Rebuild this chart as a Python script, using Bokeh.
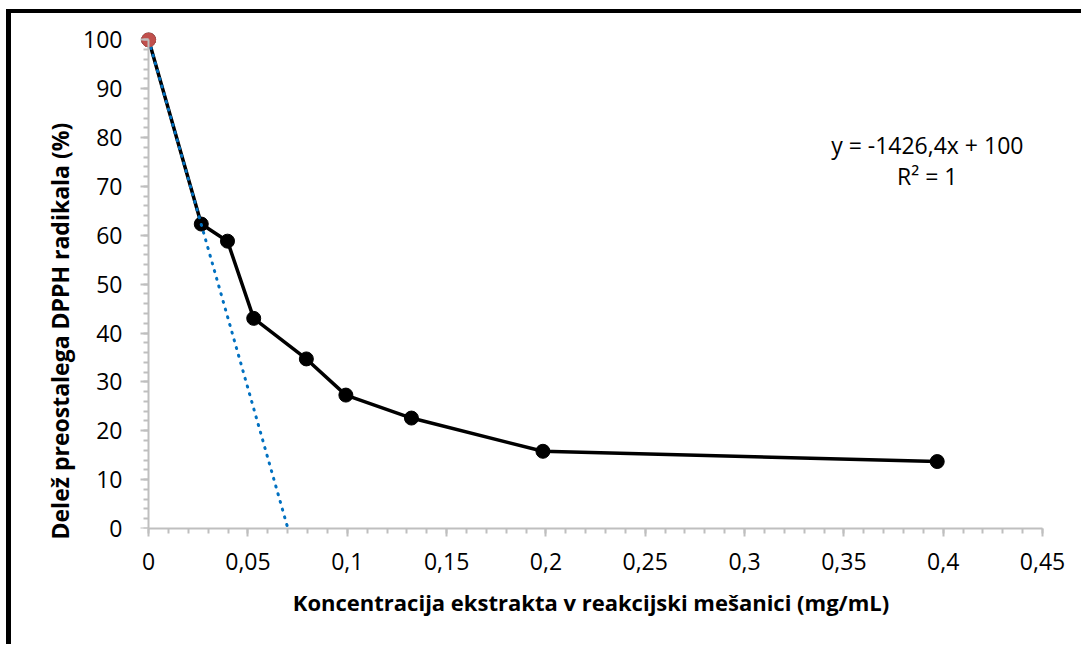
from bokeh.plotting import figure
from bokeh.models import (Range1d, SingleIntervalTicker, CustomJSTickFormatter,
                          Label, Title, LinearAxis)
from bokeh.embed import file_html
from bokeh.resources import INLINE

# Measured DPPH scavenging: extract concentration (mg/mL) vs remaining radical (%)
concentration = [0, 0.0265, 0.0397, 0.0529, 0.0794, 0.0993, 0.1323, 0.1985, 0.397]
remaining = [100, 62.3, 58.8, 43.0, 34.7, 27.3, 22.6, 15.8, 13.7]

# Linear trend through the first two points
trend_slope = -1426.4
trend_intercept = 100
equation_text = "y = -1426,4x + 100"
r2_text = "R² = 1"

x_title = "Koncentracija ekstrakta v reakcijski mešanici (mg/mL)"
y_title = "Delež preostalega DPPH radikala (%)"

# axis extents
X_MIN, X_MAX = 0, 0.45
Y_MIN, Y_MAX = 0, 100

FONT = "Open Sans"
AXIS_GREY = "#BFBFBF"

# chart-area frame: left/top border of the page element
OFF_X = 6 + 5
OFF_Y = 9 + 4

# small pad above and left of the axes so the end markers are not cut off
PAD_X = 0.0046
PAD_Y = 1.5

p = figure(width=1086 - OFF_X, height=648 - OFF_Y, output_backend="svg",
           toolbar_location=None,
           x_range=Range1d(X_MIN - PAD_X, X_MAX), y_range=Range1d(Y_MIN, Y_MAX + PAD_Y),
           min_border_left=139 - OFF_X, min_border_right=44,
           min_border_top=32 - OFF_Y, min_border_bottom=120)
p.styles = {"margin-left": "6px", "margin-top": "9px",
            "border-left": "5px solid black", "border-top": "4px solid black"}
p.outline_line_color = None
p.xgrid.visible = False
p.ygrid.visible = False
p.background_fill_color = "white"
p.border_fill_color = "white"

fmt = CustomJSTickFormatter(code="return (Math.round(tick*1000)/1000).toString().replace('.', ',');")
blank = CustomJSTickFormatter(code="return '';")


def style_axis(ax):
    ax.axis_line_color = AXIS_GREY
    ax.axis_line_width = 2
    ax.major_tick_line_color = AXIS_GREY
    ax.minor_tick_line_color = AXIS_GREY
    ax.major_tick_line_width = 2
    ax.minor_tick_line_width = 2
    ax.major_tick_in = 0
    ax.major_tick_out = 8
    ax.minor_tick_in = 0
    ax.minor_tick_out = 5
    ax.major_label_text_font = FONT
    ax.major_label_text_font_size = "23px"
    ax.major_label_text_color = "black"


# category (concentration) axis
xax = p.xaxis[0]
style_axis(xax)
xax.ticker = SingleIntervalTicker(interval=0.05, num_minor_ticks=5)
xax.formatter = fmt
xax.bounds = (X_MIN, X_MAX)
xax.axis_label = x_title
xax.axis_label_text_font = FONT
xax.axis_label_text_font_style = "bold"
xax.axis_label_text_font_size = "22px"
xax.axis_label_text_color = "black"
xax.major_label_standoff = 16
xax.axis_label_standoff = 14

# value axis: numbers on the outer edge ...
yticks = SingleIntervalTicker(interval=10, num_minor_ticks=5)
yax = p.yaxis[0]
style_axis(yax)
yax.ticker = yticks
yax.formatter = fmt
yax.axis_line_color = None
yax.major_tick_line_color = None
yax.minor_tick_line_color = None
yax.major_tick_out = 0
yax.minor_tick_out = 0
yax.major_label_standoff = 17

# ... and the line with its ticks at x = 0
yline = LinearAxis(ticker=yticks, formatter=blank, fixed_location=X_MIN,
                   bounds=(Y_MIN, Y_MAX), major_label_standoff=0)
style_axis(yline)
p.add_layout(yline, "left")

# Vertical title, set a little below the middle of the value axis
p.add_layout(Title(text=y_title, align="left", offset=-11,
                   text_font=FONT, text_font_style="bold", text_font_size="23px",
                   text_color="black"), "left")

# Measured series
p.line(concentration, remaining, line_color="black", line_width=3.5)
p.scatter(concentration, remaining, size=14, fill_color="black", line_color="black")

# Trend line from the y-intercept down to where it crosses zero
x_zero = -trend_intercept / trend_slope
trend_x = [0, x_zero]
trend_y = [trend_intercept + trend_slope * xv for xv in trend_x]
p.line(trend_x, trend_y, line_color="#0070C0", line_width=3,
       line_dash="1 7", line_cap="round")

# Starting point of the trend series
p.scatter([concentration[0]], [remaining[0]], size=14,
          fill_color="#C0504D", line_color="#C0504D")

p.add_layout(Label(x=0.392, y=78.4, text=equation_text, text_font=FONT,
                   text_font_size="23px", text_align="center",
                   text_baseline="middle", text_color="black"))
p.add_layout(Label(x=0.392, y=72.2, text=r2_text, text_font=FONT,
                   text_font_size="23px", text_align="center",
                   text_baseline="middle", text_color="black"))

open("out.html", "w").write(file_html(p, INLINE))
